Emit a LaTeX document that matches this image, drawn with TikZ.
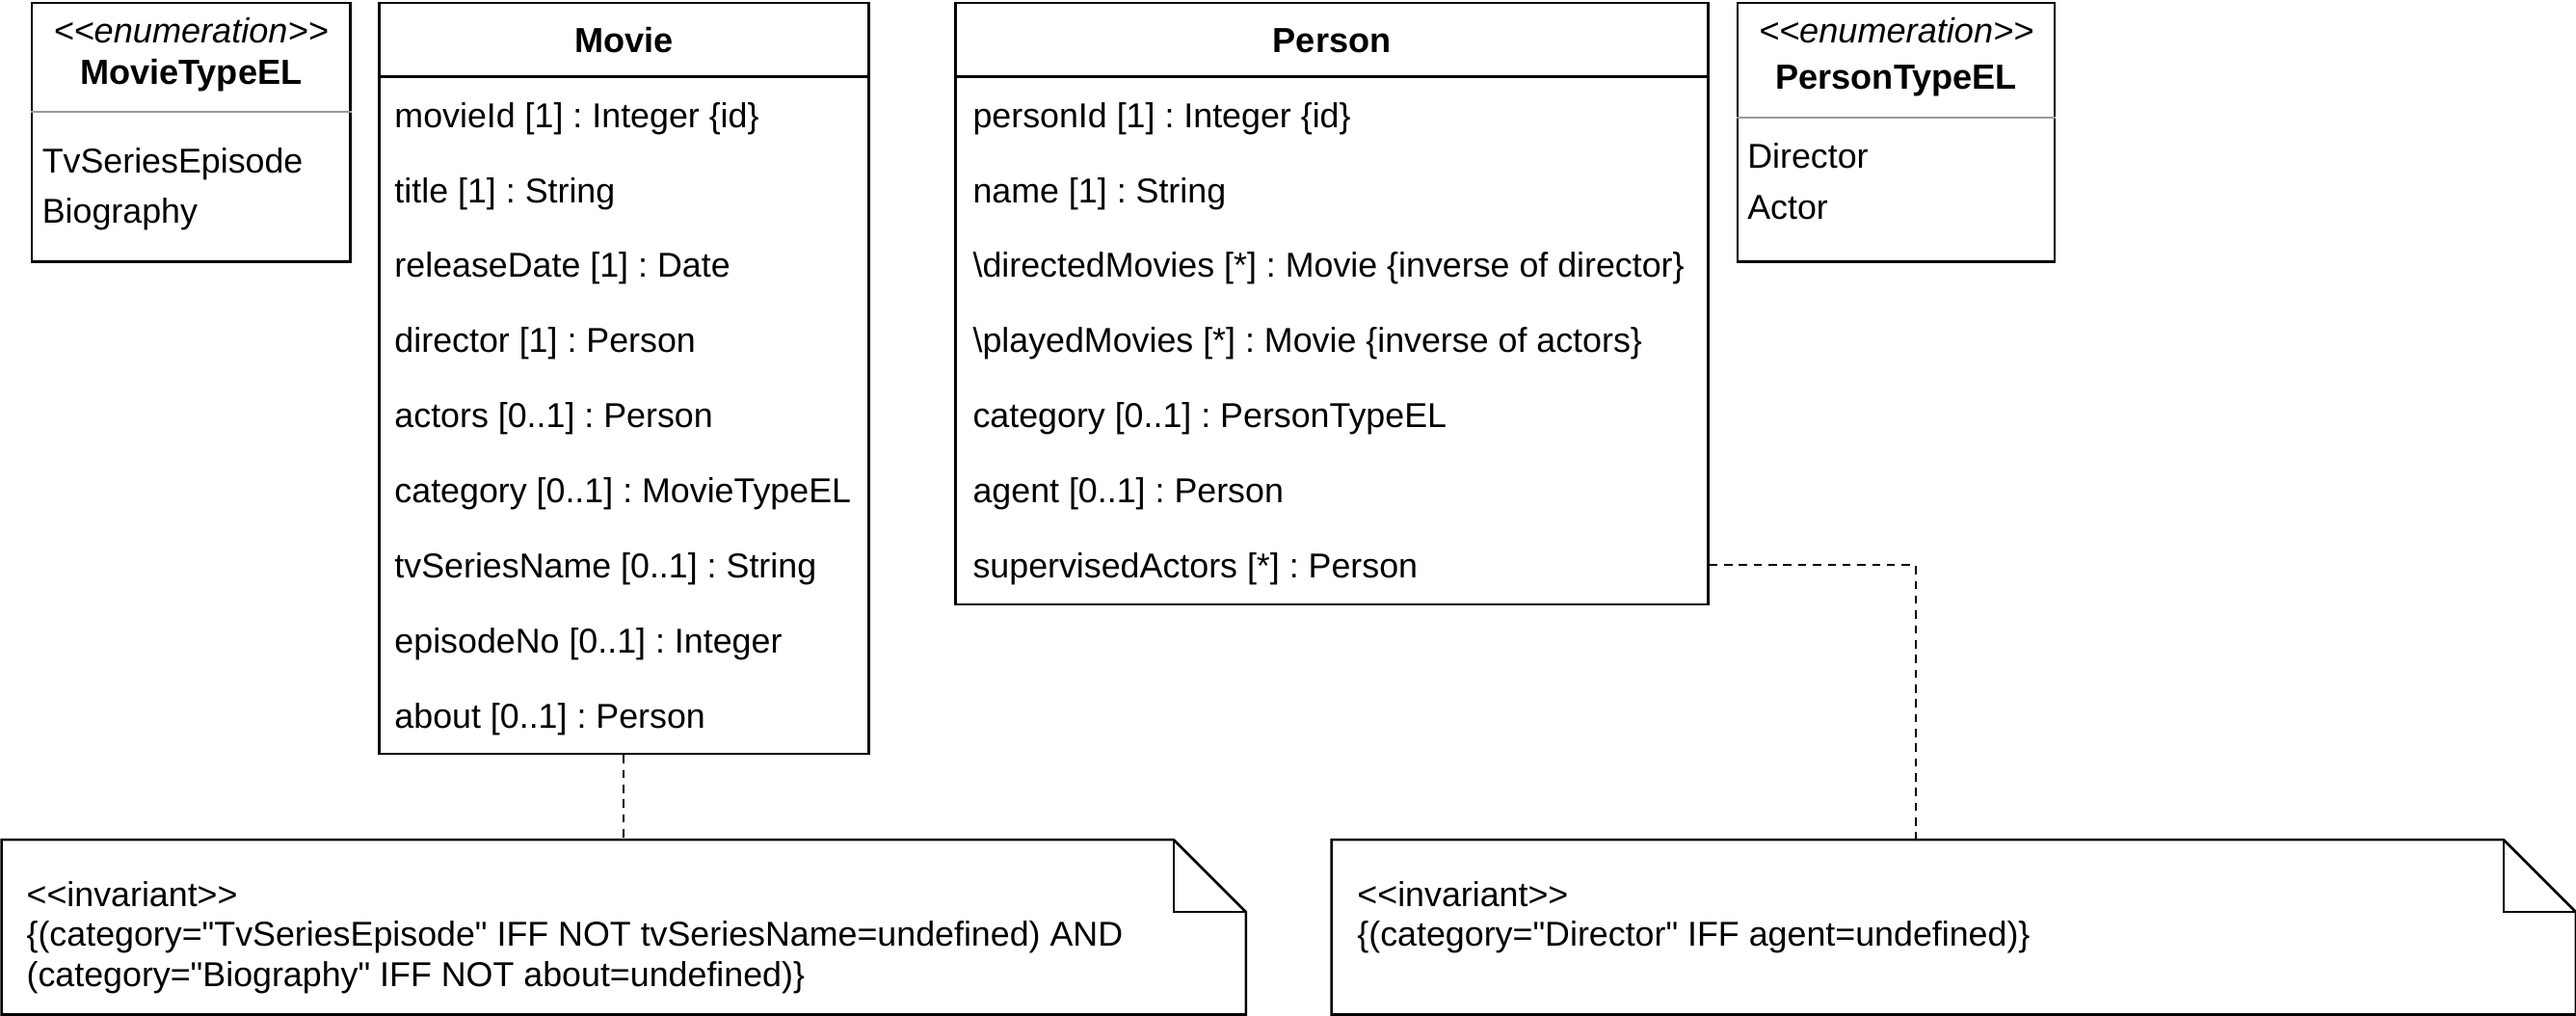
\documentclass[tikz,border=0pt]{standalone}
\usepackage{fontspec}
\setmainfont{Liberation Sans}
\usetikzlibrary{positioning,calc}
% plain glyphs, so that the TeX mapping does not turn them into guillemets or curly quotes
\newcommand{\ltsign}{\XeTeXglyph\XeTeXcharglyph"3C\relax}
\newcommand{\gtsign}{\XeTeXglyph\XeTeXcharglyph"3E\relax}
\newcommand{\quot}{\XeTeXglyph\XeTeXcharglyph"22\relax}

\begin{document}
\frenchspacing
\begin{tikzpicture}[
  x=1pt, y=-1pt,
  font=\fontsize{21}{24.5}\selectfont,
  classbox/.style={draw, line width=1.5pt, anchor=north west, inner sep=0pt},
  notebox/.style={anchor=north west, inner sep=0pt, minimum width=757pt, minimum height=106pt},
  classname/.style={anchor=base, inner sep=0pt, font=\fontsize{21.2}{24.5}\selectfont\bfseries},
  stereo/.style={anchor=base, inner sep=0pt, font=\fontsize{21.2}{24.5}\selectfont\itshape},
  attr/.style={anchor=base west, inner sep=0pt},
  notetext/.style={anchor=base west, inner sep=0pt},
  hdrline/.style={line width=1.5pt},
  enumline/.style={line width=1.5pt, draw=black!40},
  outline/.style={line width=1.5pt, line join=miter},
  dep/.style={line width=1.2pt, dash pattern=on 5pt off 4pt}
]
\useasboundingbox (0,0) rectangle (1568,618);

% enumerations
\node[classbox, minimum width=194pt, minimum height=157.5pt] (movietype) at (18.5,1) {};
\node[stereo] (mtstereo) at ($(movietype.north)+(0,25)$) {\ltsign\ltsign enumeration\gtsign\gtsign};
\node[classname] (mtname) at ($(movietype.north)+(0,50.5)$) {MovieTypeEL};
\draw[enumline] ([yshift=-67pt]movietype.north west) -- ([yshift=-67pt]movietype.north east);
\node[attr] (mt1) at ($(movietype.north west)+(7,104.5)$) {TvSeriesEpisode};
\node[attr] (mt2) at ($(movietype.north west)+(7,135)$) {Biography};

\node[classbox, minimum width=193pt, minimum height=157.5pt] (persontype) at (1057,1) {};
\node[stereo] (ptstereo) at ($(persontype.north)+(0,25)$) {\ltsign\ltsign enumeration\gtsign\gtsign};
\node[classname] (ptname) at ($(persontype.north)+(0,53.5)$) {PersonTypeEL};
\draw[enumline] ([yshift=-70.5pt]persontype.north west) -- ([yshift=-70.5pt]persontype.north east);
\node[attr] (pt1) at ($(persontype.north west)+(6.5,101.5)$) {Director};
\node[attr] (pt2) at ($(persontype.north west)+(6.5,132.5)$) {Actor};

% classes
\node[classbox, minimum width=298pt, minimum height=457pt] (movie) at (230,1) {};
\node[classname] (moviename) at ($(movie.north)+(0,31)$) {Movie};
\draw[hdrline] ([yshift=-45.5pt]movie.north west) -- ([yshift=-45.5pt]movie.north east);
\foreach \txt [count=\i] in {{movieId [1] : Integer \{id\}}, {title [1] : String},
    {releaseDate [1] : Date}, {director [1] : Person}, {actors [0..1] : Person},
    {category [0..1] : MovieTypeEL}, {tvSeriesName [0..1] : String},
    {episodeNo [0..1] : Integer}, {about [0..1] : Person}}
  \node[attr] (m\i) at ($(movie.north west)+(10,{76.5+45.7*(\i-1)})$) {\txt};

\node[classbox, minimum width=458pt, minimum height=366pt] (person) at (581,1) {};
\node[classname] (personname) at ($(person.north)+(0,31)$) {Person};
\draw[hdrline] ([yshift=-45.5pt]person.north west) -- ([yshift=-45.5pt]person.north east);
\foreach \txt [count=\i] in {{personId [1] : Integer \{id\}}, {name [1] : String},
    {\textbackslash directedMovies [*] : Movie \{inverse of director\}},
    {\textbackslash playedMovies [*] : Movie \{inverse of actors\}},
    {category [0..1] : PersonTypeEL}, {agent [0..1] : Person},
    {supervisedActors [*] : Person}}
  \node[attr] (p\i) at ($(person.north west)+(11,{76.5+45.7*(\i-1)})$) {\txt};

% invariants
\node[notebox] (note1) at (1,511) {};
\draw[outline] (note1.north west) -- ([xshift=-44pt]note1.north east) -- ([yshift=-44pt]note1.north east)
  -- (note1.south east) -- (note1.south west) -- cycle;
\draw[outline] ([xshift=-44pt]note1.north east) -- ([xshift=-44pt,yshift=-44pt]note1.north east)
  -- ([yshift=-44pt]note1.north east);
\foreach \txt [count=\i] in {{\ltsign\ltsign invariant\gtsign\gtsign},
    {\{(category=\quot TvSeriesEpisode\quot{} IFF NOT tvSeriesName=undefined) AND},
    {(category=\quot Biography\quot{} IFF NOT about=undefined)\}}}
  \node[notetext] (inva\i) at ($(note1.north west)+(15,{40.5+24.4*(\i-1)})$) {\txt};

\node[notebox] (note2) at (810.5,511) {};
\draw[outline] (note2.north west) -- ([xshift=-44pt]note2.north east) -- ([yshift=-44pt]note2.north east)
  -- (note2.south east) -- (note2.south west) -- cycle;
\draw[outline] ([xshift=-44pt]note2.north east) -- ([xshift=-44pt,yshift=-44pt]note2.north east)
  -- ([yshift=-44pt]note2.north east);
\foreach \txt [count=\i] in {{\ltsign\ltsign invariant\gtsign\gtsign},
    {\{(category=\quot Director\quot{} IFF agent=undefined)\}}}
  \node[notetext] (invb\i) at ($(note2.north west)+(15.5,{40.5+24.4*(\i-1)})$) {\txt};

% constraint links
\draw[dep] (movie.south) -- (movie.south |- note1.north);
\coordinate (elbow) at (1166,344);
\draw[dep] (person.east |- elbow) -- (elbow) -- (elbow |- note2.north);
\end{tikzpicture}
\end{document}
